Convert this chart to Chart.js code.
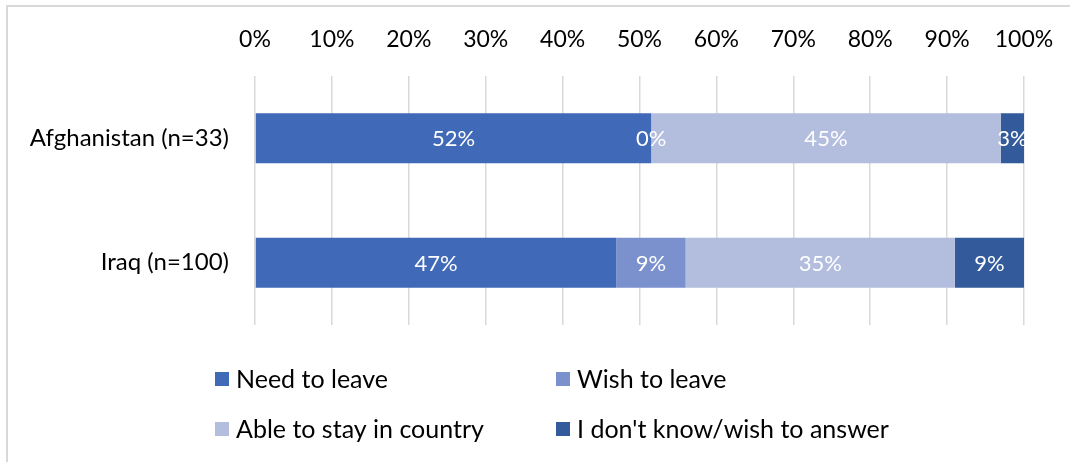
<!DOCTYPE html>
<html>
<head>
<meta charset="utf-8">
<script src="https://cdn.jsdelivr.net/npm/chart.js@4/dist/chart.umd.min.js"></script>
<style>
    html, body { margin: 0; padding: 0; background: #fff; overflow: hidden; }
    #frame { position: absolute; left: 6px; top: 5px; width: 1100px; height: 500px; border: 2px solid #d9d9d9; }
    #wrap { position: absolute; left: 0; top: 0; width: 1070px; height: 462px; }
</style>
</head>
<body>
<div id="frame"></div>
<div id="wrap"><canvas id="surveyChart" width="1070" height="462"></canvas></div>
<script>
// categories and series (percent of respondents)
var countries = ["Afghanistan (n=33)", "Iraq (n=100)"];
var needToLeave = [51.52, 47];
var wishToLeave = [0, 9];
var ableToStay = [45.45, 35];
var dontKnow = [3.03, 9];

var seriesNames = ["Need to leave", "Wish to leave", "Able to stay in country", "I don't know/wish to answer"];
var seriesColors = ["#4069b8", "#7a91ce", "#b3bedf", "#335a9a"];

var fontName = "Lato, 'Noto Sans', sans-serif";

// white value labels in the middle of each segment
var segmentLabels = {
    id: 'segmentLabels',
    afterDatasetsDraw: function (chart) {
        var ctx = chart.ctx;
        ctx.save();
        ctx.fillStyle = '#ffffff';
        ctx.font = '22px ' + fontName;
        ctx.textAlign = 'center';
        ctx.textBaseline = 'middle';
        chart.data.datasets.forEach(function (ds, i) {
            var meta = chart.getDatasetMeta(i);
            meta.data.forEach(function (bar, j) {
                var cx = (bar.x + bar.base) / 2;
                ctx.fillText(Math.round(ds.data[j]) + '%', cx, bar.y + 1);
            });
        });
        ctx.restore();
    }
};

// legend laid out in two columns under the plot
var gridLegend = {
    id: 'gridLegend',
    afterDraw: function (chart) {
        var ctx = chart.ctx;
        var cols = [215, 556];
        var rows = [379, 429];
        ctx.save();
        ctx.font = '25px ' + fontName;
        ctx.textBaseline = 'middle';
        ctx.textAlign = 'left';
        chart.data.datasets.forEach(function (ds, i) {
            var x = cols[i % 2];
            var y = rows[Math.floor(i / 2)];
            ctx.fillStyle = ds.backgroundColor;
            ctx.fillRect(x, y - 7, 14, 14);
            ctx.fillStyle = '#000000';
            ctx.fillText(ds.label, x + 21, y + 1);
        });
        ctx.restore();
    }
};

var datasetValues = [needToLeave, wishToLeave, ableToStay, dontKnow];
var datasets = [];
for (var i = 0; i < seriesNames.length; i++) {
    datasets.push({
        label: seriesNames[i],
        data: datasetValues[i],
        backgroundColor: seriesColors[i],
        borderWidth: 0,
        barPercentage: 0.4,
        categoryPercentage: 1.0
    });
}

var surveyChart = new Chart("surveyChart", {
    type: "bar",
    data: {
        labels: countries,
        datasets: datasets
    },
    options: {
        indexAxis: 'y',
        responsive: false,
        animation: false,
        layout: {
            padding: { left: 0, right: 46, top: 0, bottom: 137 }
        },
        plugins: {
            legend: { display: false },
            tooltip: { enabled: false }
        },
        scales: {
            x: {
                position: 'top',
                stacked: true,
                min: 0,
                max: 100,
                border: { display: false },
                grid: {
                    color: '#d9d9d9',
                    lineWidth: 1.5,
                    drawTicks: false
                },
                ticks: {
                    stepSize: 10,
                    padding: 23,
                    color: '#000000',
                    font: { size: 23, family: fontName },
                    callback: function (v) { return v + '%'; }
                },
                afterFit: function (scale) {
                    scale.height = 76;
                    scale.paddingLeft = 0;
                    scale.paddingRight = 0;
                }
            },
            y: {
                stacked: true,
                border: { display: false },
                grid: { display: false, drawTicks: false },
                ticks: {
                    padding: 26,
                    color: '#000000',
                    font: { size: 24, family: fontName }
                },
                afterFit: function (scale) { scale.width = 255; }
            }
        }
    },
    plugins: [segmentLabels, gridLegend]
});
</script>
</body>
</html>
